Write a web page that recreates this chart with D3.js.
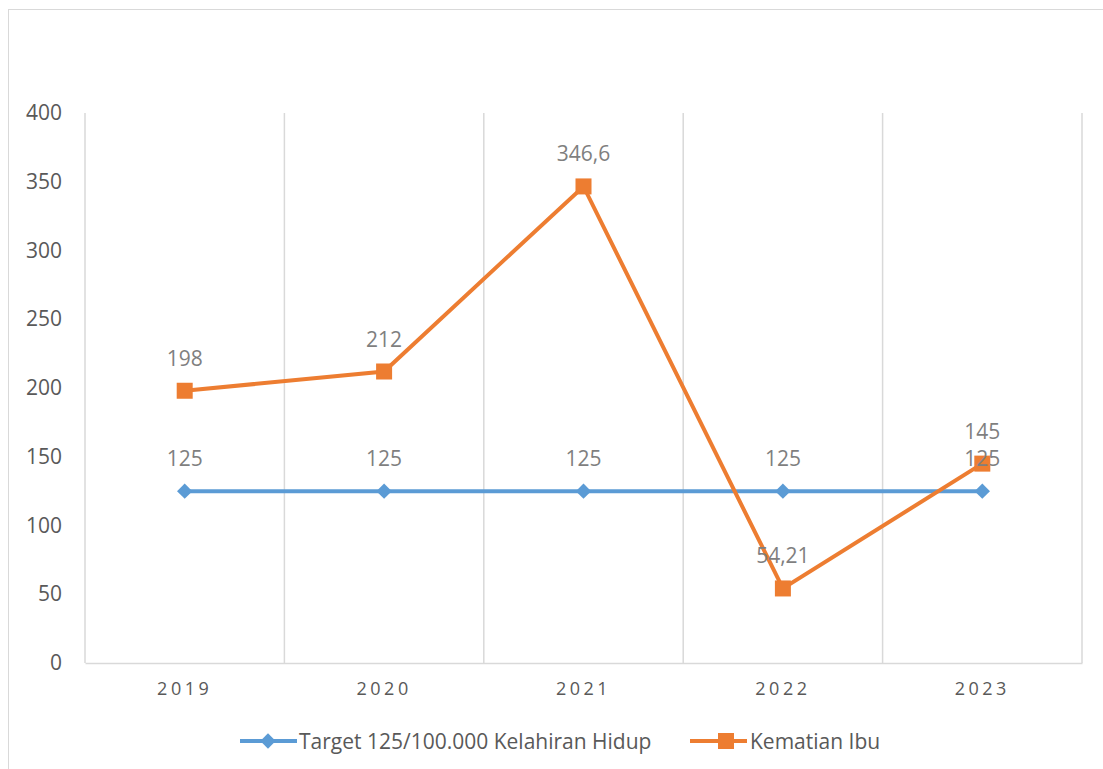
<!DOCTYPE html>
<html>
<head>
<meta charset="utf-8">
<script src="https://cdn.jsdelivr.net/npm/d3@7"></script>
<style>
  body { margin: 0; background: #fff; }
  text { font-family: "Open Sans", "Noto Sans", sans-serif; }
</style>
</head>
<body>
<script>
// data
let years = ['2019', '2020', '2021', '2022', '2023'];
let target = [125, 125, 125, 125, 125];
let kematian = [198, 212, 346.6, 54.21, 145];
let yTicks = [0, 50, 100, 150, 200, 250, 300, 350, 400];
let seriesNames = ['Target 125/100.000 Kelahiran Hidup', 'Kematian Ibu'];

let width = 1103, height = 769;
let margin = {top: 113, bottom: 106, left: 85, right: 21};

let fmt = v => String(v).replace('.', ',');

let svg = d3.select('body').append('svg').attr('width', width).attr('height', height);

// chart border
svg.append('rect').attr('x', 8.5).attr('y', 9.5).attr('width', width + 10).attr('height', height + 10)
  .attr('fill', 'none').attr('stroke', '#d9d9d9').attr('stroke-width', 1);

let xScale = d3.scaleBand().domain(years).range([margin.left, width - margin.right]);
let yScale = d3.scaleLinear().domain([0, 400]).range([height - margin.bottom, margin.top]);

// vertical gridlines at category boundaries
let bounds = years.map(y => xScale(y)).concat([xScale.range()[1]]);
svg.append('g').selectAll('line').data(bounds).enter().append('line')
  .attr('x1', d => d).attr('x2', d => d)
  .attr('y1', margin.top).attr('y2', height - margin.bottom)
  .attr('stroke', '#d9d9d9').attr('stroke-width', 1.5);

// y axis
let yAxis = svg.append('g').attr('transform', `translate(${margin.left},0)`)
  .call(d3.axisLeft(yScale).tickValues(yTicks).tickSize(0).tickPadding(23));
yAxis.select('.domain').remove();
yAxis.selectAll('text').attr('font-size', 21).attr('fill', '#595959')
  .style('font-family', '"Open Sans", sans-serif');

// x axis
let xAxis = svg.append('g').attr('transform', `translate(0,${height - margin.bottom})`)
  .call(d3.axisBottom(xScale).tickSize(0).tickPadding(19));
xAxis.select('.domain').attr('stroke', '#d9d9d9').attr('stroke-width', 1.5);
xAxis.selectAll('text').attr('font-size', 18).attr('fill', '#595959')
  .style('letter-spacing', '3.5px').style('font-family', '"Open Sans", sans-serif');

let cx = d => xScale(d) + xScale.bandwidth() / 2;
let line = d3.line().x(d => cx(d.year)).y(d => yScale(d.v));

let tData = years.map((y, i) => ({year: y, v: target[i]}));
let kData = years.map((y, i) => ({year: y, v: kematian[i]}));

let blue = '#5b9bd5', orange = '#ed7d31';

svg.append('path').datum(tData).attr('d', line).attr('fill', 'none')
  .attr('stroke', blue).attr('stroke-width', 4);
svg.append('g').selectAll('path').data(tData).enter().append('path')
  .attr('d', d3.symbol(d3.symbolDiamond2, 150))
  .attr('transform', d => `translate(${cx(d.year)},${yScale(d.v)})`)
  .attr('fill', blue);

svg.append('path').datum(kData).attr('d', line).attr('fill', 'none')
  .attr('stroke', orange).attr('stroke-width', 4);
svg.append('g').selectAll('rect').data(kData).enter().append('rect')
  .attr('x', d => cx(d.year) - 8).attr('y', d => yScale(d.v) - 8)
  .attr('width', 16).attr('height', 16).attr('fill', orange);

// data labels
let labels = svg.append('g');
labels.selectAll('.lt').data(tData).enter().append('text')
  .attr('x', d => cx(d.year)).attr('y', d => yScale(d.v) - 25)
  .attr('text-anchor', 'middle').attr('font-size', 21).attr('fill', '#7f7f7f')
  .text(d => fmt(d.v));
labels.selectAll('.lk').data(kData).enter().append('text')
  .attr('x', d => cx(d.year)).attr('y', d => yScale(d.v) - 25)
  .attr('text-anchor', 'middle').attr('font-size', 21).attr('fill', '#7f7f7f')
  .text(d => fmt(d.v));

// legend
let lg = svg.append('g').attr('transform', 'translate(0,741)');
lg.append('line').attr('x1', 240).attr('x2', 297).attr('stroke', blue).attr('stroke-width', 4);
lg.append('path').attr('d', d3.symbol(d3.symbolDiamond2, 150)).attr('transform', 'translate(268,0)').attr('fill', blue);
lg.append('text').attr('x', 299).attr('y', 8).attr('font-size', 21).attr('fill', '#595959').text(seriesNames[0]);
lg.append('line').attr('x1', 690).attr('x2', 747).attr('stroke', orange).attr('stroke-width', 4);
lg.append('rect').attr('x', 718).attr('y', -8).attr('width', 16).attr('height', 16).attr('fill', orange);
lg.append('text').attr('x', 750).attr('y', 8).attr('font-size', 21).attr('fill', '#595959').text(seriesNames[1]);
</script>
</body>
</html>
